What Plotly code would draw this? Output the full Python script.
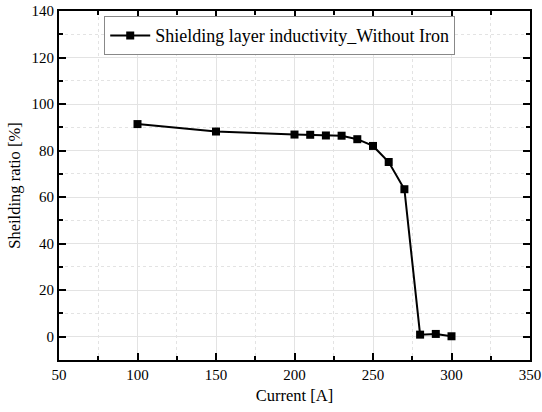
import plotly.graph_objects as go

current = [100, 150, 200, 210, 220, 230, 240, 250, 260, 270, 280, 290, 300]
ratio = [91.4, 88.2, 86.9, 86.8, 86.5, 86.4, 84.9, 82.0, 75.1, 63.4, 0.9, 1.2, 0.2]
series_name = "Shielding layer inductivity_Without Iron"

font_family = "Liberation Serif"

fig = go.Figure()
fig.add_trace(go.Scatter(
    x=current, y=ratio, mode="lines+markers", name=series_name,
    line=dict(color="black", width=2),
    marker=dict(symbol="square", size=8, color="black"),
))

axis_common = dict(
    showline=True, linecolor="black", linewidth=2, mirror="allticks",
    ticks="inside", ticklen=7, tickwidth=1.5, tickcolor="black",
    showgrid=True, gridcolor="#e3e3e3", gridwidth=1,
    zeroline=False, automargin=False, ticklabeloverflow="allow",
    tickfont=dict(family=font_family, size=15, color="black"),
    title_font=dict(family=font_family, size=16.5, color="black"),
)

fig.update_xaxes(
    range=[50, 350], tickvals=[50, 100, 150, 200, 250, 300, 350],
    title_text="Current [A]", title_standoff=7,
    minor=dict(dtick=25, tick0=0, ticks="inside", ticklen=4, tickcolor="black",
               showgrid=True, gridcolor="#e3e3e3", griddash="dot", gridwidth=1),
    **axis_common,
)
fig.update_yaxes(
    range=[-10, 140], tickvals=[0, 20, 40, 60, 80, 100, 120, 140],
    title_text="Sheilding ratio [%]", title_standoff=7,
    minor=dict(dtick=10, tick0=0, ticks="inside", ticklen=4, tickcolor="black",
               showgrid=True, gridcolor="#e3e3e3", griddash="dot", gridwidth=1),
    **axis_common,
)

fig.update_layout(
    width=542, height=412,
    margin=dict(l=59, r=12, t=11, b=52),
    paper_bgcolor="white", plot_bgcolor="white",
    showlegend=True,
    legend=dict(
        x=0.096, y=0.985, xanchor="left", yanchor="top",
        bgcolor="white", bordercolor="#888888", borderwidth=1,
        font=dict(family=font_family, size=18, color="black"),
        itemwidth=40, tracegroupgap=0,
    ),
    font=dict(family=font_family, color="black"),
)

fig.write_html(
    "out.html",
    config={"displayModeBar": False},
    post_script="document.body.style.margin='0';document.body.style.padding='0';",
)
